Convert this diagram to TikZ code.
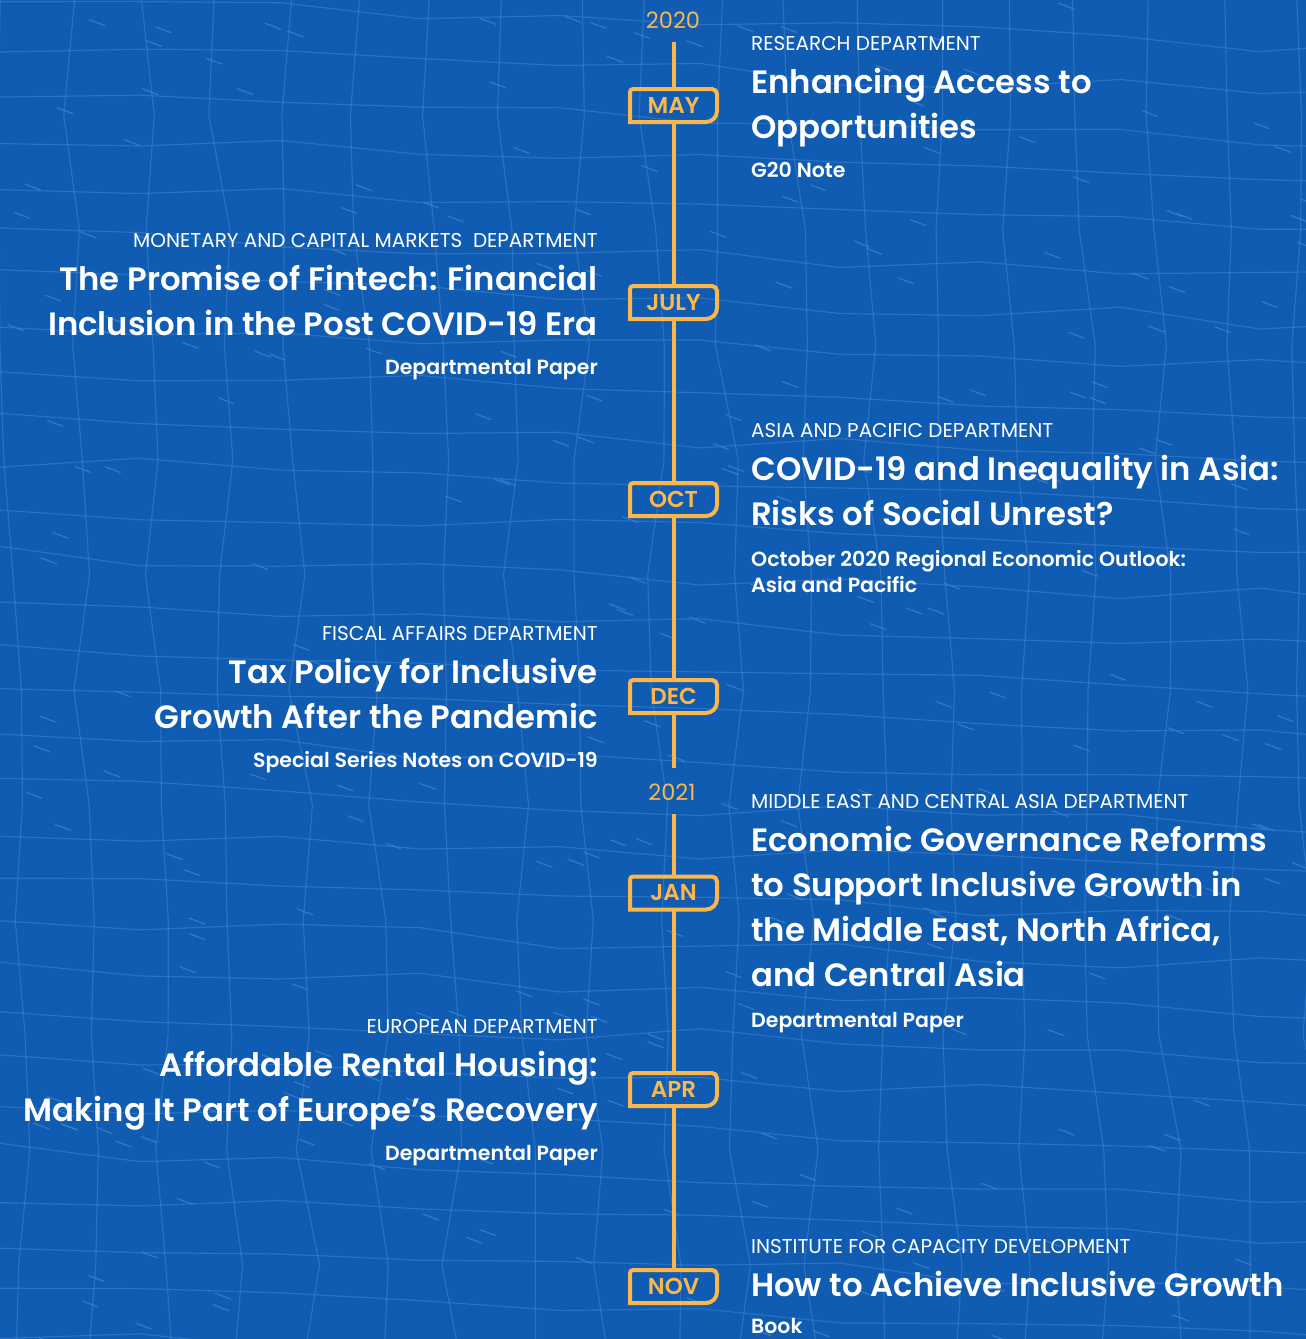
\documentclass[tikz,border=0pt]{standalone}
\usepackage{fontspec}
\setmainfont{Poppins}[BoldFont={Poppins SemiBold}]
\definecolor{bgblue}{RGB}{15,92,178}
\definecolor{meshblue}{RGB}{62,128,203}
\definecolor{ylw}{RGB}{251,183,76}
\begin{document}
\begin{tikzpicture}[x=1pt,y=1pt,
	tline/.style={draw=ylw,line width=4pt},
	month/.style={minimum width=87pt,minimum height=33pt,inner sep=0pt,outer sep=0pt,text=ylw,font=\bfseries\fontsize{23}{26}\selectfont},
	yearlab/.style={inner sep=0pt,text=ylw,font=\fontsize{22.5}{26}\selectfont},
	dept/.style={inner sep=0pt,text=white,font=\fontsize{20}{22}\selectfont},
	ttl/.style={inner sep=0pt,text=white,font=\bfseries\fontsize{32.3}{45}\selectfont},
	sub/.style={inner sep=0pt,text=white,font=\bfseries\fontsize{20.5}{26}\selectfont},
	lft/.style={anchor=base east,align=right},
	rgt/.style={anchor=base west,align=left},
	mesh/.style={draw=meshblue,line width=1.2pt,opacity=0.6},
	tick/.style={draw=meshblue,line width=1.2pt,opacity=0.8}]
\useasboundingbox (0,0) rectangle (1306,-1339);
\fill[bgblue] (0,0) rectangle (1306,-1339);
% background mesh
\pgfmathsetseed{11}
\begin{scope}
\clip (0,0) rectangle (1306,-1339);
\foreach \i in {0,...,19}
	\draw[mesh] ({\i*72+10*rand},10) \foreach \j in {1,...,12} { -- ({\i*72+12*rand+\j*2},{-\j*115})};
\foreach \j in {0,...,30}
	\draw[mesh] (-10,{-\j*46+8*rand}) \foreach \i in {1,...,10} { -- ({\i*140},{-\j*46-\i*5+9*rand})};
\foreach \k in {1,...,260}
	\draw[tick] ({653+653*rand},{-670+670*rand}) -- ++(16,-6);
\end{scope}

% years and months
\node[yearlab] (y2020) at (673,-20) {2020};
\node[yearlab] (y2021) at (672,-792) {2021};
\coordinate (t2020) at (673.5,-42);
\coordinate (b2020) at (673.5,-768);
\coordinate (t2021) at (673.5,-814);
\node[month] (may) at (673.5,-105.5) {MAY};
\node[month] (july) at (673.5,-302.5) {JULY};
\node[month] (oct) at (673.5,-499.5) {OCT};
\node[month] (dec) at (673.5,-696.5) {DEC};
\node[month] (jan) at (673.5,-893) {JAN};
\node[month] (apr) at (673.5,-1089.5) {APR};
\node[month] (nov) at (673.5,-1286.5) {NOV};
\draw[tline] (t2020) -- (may.north);
\draw[tline] (may.south) -- (july.north);
\draw[tline] (july.south) -- (oct.north);
\draw[tline] (oct.south) -- (dec.north);
\draw[tline] (dec.south) -- (b2020);
\draw[tline] (t2021) -- (jan.north);
\draw[tline] (jan.south) -- (apr.north);
\draw[tline] (apr.south) -- (nov.north);
\foreach \m in {may,july,oct,dec,jan,apr,nov}
	\draw[tline] (\m.south west) -- ([yshift=-3pt]\m.north west) arc[start angle=180,end angle=90,radius=3pt]
		-- ([xshift=-5pt]\m.north east) arc[start angle=90,end angle=0,radius=5pt]
		-- ([yshift=11pt]\m.south east) arc[start angle=0,end angle=-90,radius=11pt] -- cycle;

% May
\node[dept,rgt] (mayDept) at (751,-50) {RESEARCH DEPARTMENT};
\node[ttl,rgt] (mayTtl) at (751,-138) {Enhancing Access to\\Opportunities};
\node[sub,rgt] (maySub) at (751,-177) {G20 Note};
% July
\node[dept,lft] (julyDept) at (598,-247) {MONETARY AND CAPITAL MARKETS\ \ DEPARTMENT};
\node[ttl,lft] (julyTtl) at (598,-335) {The Promise of Fintech: Financial\\Inclusion in the Post COVID-19 Era};
\node[sub,lft] (julySub) at (598,-374) {Departmental Paper};
% October
\node[dept,rgt] (octDept) at (751,-437) {ASIA AND PACIFIC DEPARTMENT};
\node[ttl,rgt] (octTtl) at (751,-525) {COVID-19 and Inequality in Asia:\\Risks of Social Unrest?};
\node[sub,rgt] (octSub) at (751,-592) {October 2020 Regional Economic Outlook:\\Asia and Pacific};
% December
\node[dept,lft] (decDept) at (598,-640) {FISCAL AFFAIRS DEPARTMENT};
\node[ttl,lft] (decTtl) at (598,-728) {Tax Policy for Inclusive\\Growth After the Pandemic};
\node[sub,lft] (decSub) at (598,-767) {Special Series Notes on COVID-19};
% January
\node[dept,rgt] (janDept) at (751,-808) {MIDDLE EAST AND CENTRAL ASIA DEPARTMENT};
\node[ttl,rgt] (janTtl) at (751,-986) {Economic Governance Reforms\\to Support Inclusive Growth in\\the Middle East, North Africa,\\and Central Asia};
\node[sub,rgt] (janSub) at (751,-1027) {Departmental Paper};
% April
\node[dept,lft] (aprDept) at (598,-1033) {EUROPEAN DEPARTMENT};
\node[ttl,lft] (aprTtl) at (598,-1121) {Affordable Rental Housing:\\Making It Part of Europe’s Recovery};
\node[sub,lft] (aprSub) at (598,-1160) {Departmental Paper};
% November
\node[dept,rgt] (novDept) at (751,-1253) {INSTITUTE FOR CAPACITY DEVELOPMENT};
\node[ttl,rgt] (novTtl) at (751,-1296) {How to Achieve Inclusive Growth};
\node[sub,rgt] (novSub) at (751,-1333) {Book};
\end{tikzpicture}
\end{document}
